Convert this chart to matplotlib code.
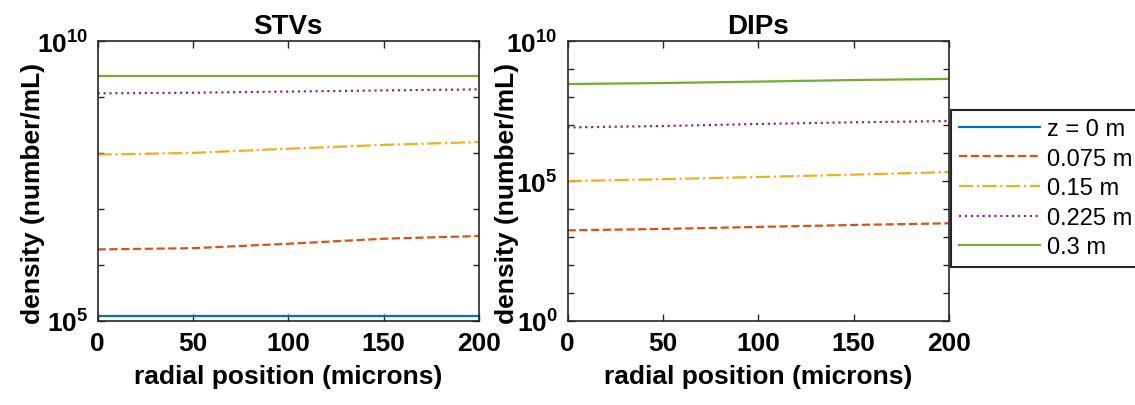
import matplotlib.pyplot as plt
import numpy as np

plt.rcParams['font.family'] = 'Liberation Sans'
plt.rcParams['mathtext.fontset'] = 'custom'
plt.rcParams['mathtext.rm'] = 'Liberation Sans'
plt.rcParams['mathtext.bf'] = 'Liberation Sans:bold'

# radial position (microns)
radial = [0, 50, 100, 150, 200]

# STVs density (number/mL) at each axial position z
stv_z0 = [1.23e5, 1.23e5, 1.23e5, 1.23e5, 1.23e5]
stv_z075 = [1.9e6, 2.0e6, 2.4e6, 2.95e6, 3.3e6]
stv_z15 = [9.4e7, 1.01e8, 1.2e8, 1.4e8, 1.58e8]
stv_z225 = [1.17e9, 1.2e9, 1.26e9, 1.32e9, 1.38e9]
stv_z3 = [2.37e9, 2.37e9, 2.37e9, 2.37e9, 2.37e9]

# DIPs density (number/mL); z = 0 has no DIPs
dip_z0 = [0, 0, 0, 0, 0]
dip_z075 = [1.74e3, 1.95e3, 2.3e3, 2.7e3, 3.1e3]
dip_z15 = [1.0e5, 1.17e5, 1.4e5, 1.7e5, 2.1e5]
dip_z225 = [8.3e6, 9.3e6, 1.1e7, 1.26e7, 1.4e7]
dip_z3 = [2.95e8, 3.2e8, 3.6e8, 4.1e8, 4.5e8]

labels = ['z = 0 m', '0.075 m', '0.15 m', '0.225 m', '0.3 m']
x_ticks = [0, 50, 100, 150, 200]
stv_yticks = [1e5, 1e10]
stv_yticklabels = [r'$\mathbf{10^{5}}$', r'$\mathbf{10^{10}}$']
dip_yticks = [1e0, 1e5, 1e10]
dip_yticklabels = [r'$\mathbf{10^{0}}$', r'$\mathbf{10^{5}}$', r'$\mathbf{10^{10}}$']

colors = ['#0072BD', '#D95319', '#EDB120', '#7E2F8E', '#77AC30']
styles = ['-', '--', '-.', ':', '-']

fig = plt.figure(figsize=(11.35, 4.06), dpi=100)
ax1 = fig.add_axes([0.086, 0.207, 0.336, 0.689])
ax2 = fig.add_axes([0.5, 0.207, 0.336, 0.689])


def style_axes(ax, title, ylim, yticks, yticklabels, minor, ylab_x):
    ax.set_yscale('log', nonpositive='mask')
    ax.set_xlim(0, 200)
    ax.set_ylim(*ylim)
    ax.set_xticks(x_ticks)
    ax.set_xticklabels([str(t) for t in x_ticks], fontsize=19, fontweight='bold')
    ax.set_yticks(yticks)
    ax.set_yticklabels(yticklabels, fontsize=19)
    ax.set_yticks(minor, minor=True)
    ax.yaxis.set_minor_formatter(plt.NullFormatter())
    ax.tick_params(which='both', direction='in', top=True, right=True,
                   color='#262626', width=1.0)
    ax.tick_params(which='major', length=5, pad=7)
    ax.tick_params(which='minor', length=4)
    ax.set_title(title, fontsize=20, fontweight='bold', pad=6)
    ax.set_xlabel('radial position (microns)', fontsize=19, fontweight='bold', labelpad=7)
    ax.set_ylabel('density (number/mL)', fontsize=19, fontweight='bold')
    ax.yaxis.set_label_coords(ylab_x, 0.46)
    for s in ax.spines.values():
        s.set_color('#262626')
        s.set_linewidth(1.2)


stv = [stv_z0, stv_z075, stv_z15, stv_z225, stv_z3]
for ys, c, ls, lab in zip(stv, colors, styles, labels):
    ax1.plot(radial, ys, color=c, linestyle=ls, linewidth=1.6, label=lab)
style_axes(ax1, 'STVs', (1e5, 1e10), stv_yticks, stv_yticklabels,
           [1e6, 1e7, 1e8, 1e9], -0.138)

dip = [dip_z0, dip_z075, dip_z15, dip_z225, dip_z3]
for ys, c, ls, lab in zip(dip, colors, styles, labels):
    ax2.plot(radial, ys, color=c, linestyle=ls, linewidth=1.6, label=lab)
style_axes(ax2, 'DIPs', (1e0, 1e10), dip_yticks, dip_yticklabels,
           [1e1, 1e2, 1e3, 1e4, 1e6, 1e7, 1e8, 1e9], -0.127)

leg = ax2.legend(loc='upper left', bbox_to_anchor=(0.838, 0.727),
                 bbox_transform=fig.transFigure, fontsize=17, frameon=True,
                 fancybox=False, framealpha=1, edgecolor='#262626',
                 handlelength=3.4, handletextpad=0.3, labelspacing=0.32,
                 borderpad=0.35, borderaxespad=0)
leg.get_frame().set_linewidth(1.5)

fig.savefig('out.png', dpi=100)
